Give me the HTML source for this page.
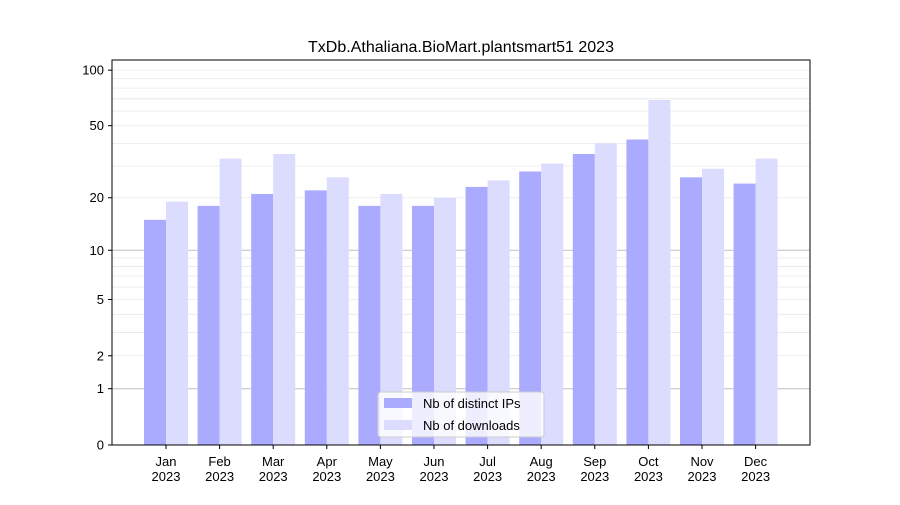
<!DOCTYPE html>
<html><head><meta charset="utf-8"><style>
body{margin:0;background:#fff;font-family:"Liberation Sans","DejaVu Sans",sans-serif;}
</style></head><body>
<svg id="chart" width="900" height="500" xmlns="http://www.w3.org/2000/svg"></svg>
<script>
const categories=["Jan","Feb","Mar","Apr","May","Jun","Jul","Aug","Sep","Oct","Nov","Dec"];
const ipValues=[15,18,21,22,18,18,23,28,35,42,26,24];
const downloadValues=[19,33,35,26,21,20,25,31,40,69,29,33];
const yTicks=[0,1,2,5,10,20,50,100];
const yearLabel="2023";
const chartTitle="TxDb.Athaliana.BioMart.plantsmart51 2023";

const NS="http://www.w3.org/2000/svg";
const svg=document.getElementById('chart');
const L=112,R=810,T=60,B=445,K=187;
function y(v){return B-Math.log10(1+v)*K;}
const step=(R-L)/categories.length*0.96;
function xc(i){return 166+i*53.6;}
function mk(tag,attrs,parent){const e=document.createElementNS(NS,tag);for(const k in attrs)e.setAttribute(k,attrs[k]);(parent||svg).appendChild(e);return e;}

// minor grid
const minor=[3,4,6,7,8,9,30,40,60,70,80,90];
minor.forEach(v=>{const l=mk('line',{x1:L,x2:R,y1:y(v),y2:y(v),stroke:'#e8e8e8','stroke-width':0.8});

});
yTicks.forEach(v=>{const major=(v===1||v===10);const l=mk('line',{x1:L,x2:R,y1:y(v),y2:y(v),stroke:major?'#c0c0c0':'#ebebeb','stroke-width':major?1:0.8});

});

categories.forEach((c,i)=>{
  const cx=xc(i);
  const b1=mk('rect',{x:cx-22,y:y(ipValues[i]),width:22,height:B-y(ipValues[i]),fill:'#aaaaff'});
  
  
  const b2=mk('rect',{x:cx,y:y(downloadValues[i]),width:22,height:B-y(downloadValues[i]),fill:'#dcdcff'});
  
  
  mk('line',{x1:cx,x2:cx,y1:B,y2:B+4,stroke:'#000'});
  const t=mk('text',{x:cx,y:B+21,'text-anchor':'middle','font-size':13});
  t.textContent=c;
  
  
  const t2=mk('text',{x:cx,y:B+36,'text-anchor':'middle','font-size':13});
  t2.textContent=yearLabel;
  
  
});

yTicks.forEach(v=>{
  mk('line',{x1:L-4,x2:L,y1:y(v),y2:y(v),stroke:'#000'});
  const t=mk('text',{x:L-8,y:y(v)+4.5,'text-anchor':'end','font-size':13});
  t.textContent=v;
  
  
});

const frame=mk('rect',{x:L,y:T,width:R-L,height:B-T,fill:'none',stroke:'#000','stroke-width':1});



const title=mk('text',{x:461,y:52,'text-anchor':'middle','font-size':16});
title.textContent=chartTitle;



// legend
const lg=mk('g',{});


mk('rect',{x:378,y:392,width:166,height:45,rx:3,fill:'#fff','fill-opacity':0.8,stroke:'#ccc'},lg);
mk('rect',{x:384,y:398,width:28,height:10,fill:'#aaaaff'},lg);
mk('rect',{x:384,y:420,width:28,height:10,fill:'#dcdcff'},lg);
const l1=mk('text',{x:423,y:408,'font-size':13},lg);l1.textContent='Nb of distinct IPs';


const l2=mk('text',{x:423,y:430,'font-size':13},lg);l2.textContent='Nb of downloads';


</script>
</body></html>
